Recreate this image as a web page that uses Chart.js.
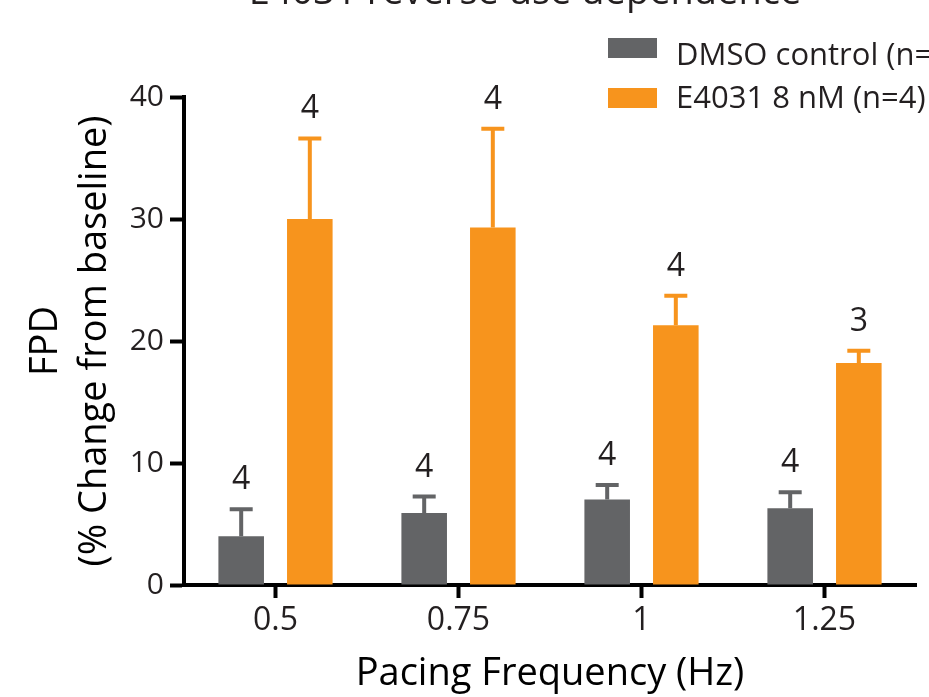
<!DOCTYPE html>
<html>
<head>
<meta charset="utf-8">
<script src="https://cdn.jsdelivr.net/npm/chart.js@4"></script>
<style>
  html, body { margin: 0; padding: 0; background: #fff; }
  canvas { display: block; }
</style>
</head>
<body>
<canvas id="fpd" width="929" height="697"></canvas>
<script>
const frequencies = ["0.5", "0.75", "1", "1.25"]

const dmsoMean = [4.0, 5.9, 7.0, 6.3]
const dmsoSem = [2.2, 1.35, 1.2, 1.3]
const dmsoN = [4, 4, 4, 4]

const e4031Mean = [30.0, 29.3, 21.3, 18.2]
const e4031Sem = [6.6, 8.1, 2.4, 1.0]
const e4031N = [4, 4, 4, 3]

const yTicks = [0, 10, 20, 30, 40]

const grey = "#636466"
const orange = "#f7941d"
const ink = "#231f20"
const fontFamily = "'Open Sans', sans-serif"

// error bars (up only) and the n above each one
const errorBars = {
	id: "errorBars",
	afterDatasetsDraw(chart) {
		const ctx = chart.ctx
		const y = chart.scales.y
		chart.data.datasets.forEach((ds, i) => {
			const meta = chart.getDatasetMeta(i)
			meta.data.forEach((bar, j) => {
				const top = y.getPixelForValue(ds.data[j])
				const capY = y.getPixelForValue(ds.data[j] + ds.sem[j])
				ctx.save()
				ctx.strokeStyle = ds.backgroundColor
				ctx.lineWidth = 4
				ctx.beginPath()
				ctx.moveTo(bar.x, top)
				ctx.lineTo(bar.x, capY)
				ctx.moveTo(bar.x - 11.5, capY)
				ctx.lineTo(bar.x + 11.5, capY)
				ctx.stroke()
				ctx.fillStyle = ink
				ctx.font = "32px " + fontFamily
				ctx.textAlign = "center"
				ctx.textBaseline = "alphabetic"
				ctx.fillText(String(ds.n[j]), bar.x, capY - 20)
				ctx.restore()
			})
		})
	}
}

// legend + the cropped title at the top
const extras = {
	id: "extras",
	afterDraw(chart) {
		const ctx = chart.ctx
		ctx.save()
		ctx.fillStyle = ink
		ctx.font = "38px " + fontFamily
		ctx.textAlign = "center"
		ctx.textBaseline = "alphabetic"
		ctx.fillText("E4031 reverse use dependence", 525, 4)

		ctx.textAlign = "left"
		ctx.font = "31px " + fontFamily
		const swatchY = [38, 88]
		const textY = [65, 108]
		chart.data.datasets.forEach((ds, i) => {
			ctx.fillStyle = ds.backgroundColor
			ctx.fillRect(608, swatchY[i], 49, 20)
			ctx.fillStyle = ink
			ctx.fillText(ds.label, 676, textY[i])
		})
		ctx.restore()
	}
}

new Chart(document.getElementById("fpd"), {
	type: "bar",
	data: {
		labels: frequencies,
		datasets: [
			{
				label: "DMSO control (n=4)",
				data: dmsoMean,
				sem: dmsoSem,
				n: dmsoN,
				backgroundColor: grey,
				barPercentage: 0.664,
				categoryPercentage: 0.75
			},
			{
				label: "E4031 8 nM (n=4)",
				data: e4031Mean,
				sem: e4031Sem,
				n: e4031N,
				backgroundColor: orange,
				barPercentage: 0.664,
				categoryPercentage: 0.75
			}
		]
	},
	options: {
		responsive: false,
		animation: false,
		devicePixelRatio: 1,
		layout: { padding: { top: 97, right: 13, bottom: 0, left: 0 } },
		plugins: {
			legend: { display: false },
			tooltip: { enabled: false },
			title: { display: false }
		},
		scales: {
			x: {
				afterFit(scale) { scale.height = 697 - 585 },
				border: { display: true, color: "#000", width: 4 },
				grid: {
					offset: false,
					drawOnChartArea: false,
					drawTicks: true,
					tickLength: 13,
					tickWidth: 4,
					tickColor: "#000"
				},
				ticks: {
					color: ink,
					font: { family: fontFamily, size: 32 },
					padding: 4
				},
				title: {
					display: true,
					text: "Pacing Frequency (Hz)",
					color: "#000",
					font: { family: fontFamily, size: 38 },
					padding: { top: 0, bottom: 0 }
				}
			},
			y: {
				min: 0,
				max: 40,
				afterFit(scale) { scale.width = 184 },
				afterBuildTicks(scale) { scale.ticks = yTicks.map(v => ({ value: v })) },
				border: { display: true, color: "#000", width: 4 },
				grid: {
					drawOnChartArea: false,
					drawTicks: true,
					tickLength: 14,
					tickWidth: 4,
					tickColor: "#000"
				},
				ticks: {
					color: ink,
					font: { family: fontFamily, size: 30 },
					padding: 6
				},
				title: {
					display: true,
					text: ["FPD", "(% Change from baseline)"],
					color: "#000",
					font: { family: fontFamily, size: 38, lineHeight: 1.29 },
					padding: { top: 22, bottom: 0 }
				}
			}
		}
	},
	plugins: [errorBars, extras]
})
</script>
</body>
</html>
